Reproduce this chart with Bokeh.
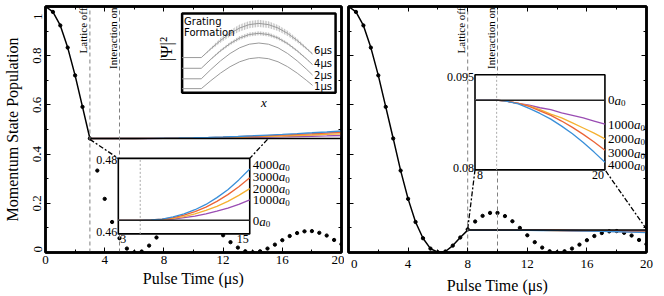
import math
from bokeh.plotting import figure
from bokeh.models import Range1d, LinearAxis, FixedTicker, CustomJSTickFormatter, AllLabels
from bokeh.layouts import row
from bokeh.embed import file_html
from bokeh.resources import INLINE
from bokeh.core.properties import value

SERIF = "Liberation Serif"
SANS = "DejaVu Sans"

# ---------------- data ----------------
# full lattice pulse (dots), momentum-state population vs pulse time (us)
pulse_t = [0, 0.5, 1, 1.5, 2, 2.5, 3, 3.5, 4, 4.5, 5, 5.5, 6, 6.5, 7, 7.5, 8, 8.5, 9, 9.5,
           10, 10.5, 11, 11.5, 12, 12.5, 13, 13.5, 14, 14.5, 15, 15.5, 16, 16.5, 17, 17.5,
           18, 18.5, 19, 19.5, 20]
pulse_p = [1.0, 0.978, 0.923, 0.833, 0.72, 0.592, 0.4636, 0.333, 0.218, 0.124, 0.058, 0.016,
           0.001, 0.004, 0.028, 0.061, 0.094, 0.126, 0.149, 0.161, 0.161, 0.148, 0.127, 0.100,
           0.070, 0.042, 0.020, 0.005, 0.001, 0.005, 0.016, 0.032, 0.050, 0.067, 0.079, 0.086,
           0.087, 0.080, 0.069, 0.051, 0.034]

series = ["1000", "2000", "3000", "4000", "0"]
series_colors = {"0": "#222222", "1000": "#9A4DB3", "2000": "#F5B131",
                 "3000": "#EB6436", "4000": "#3A8FD9"}

# left panel: lattice off at 3 us, interaction on at 5 us
left_off, left_on = 3, 5
left_t = [3, 4, 5, 6, 7, 8, 9, 10, 11, 12, 13, 14, 15, 16, 17, 18, 19, 20]
left_p = {
    "0":    [0.4636, 0.4636, 0.4636, 0.4636, 0.4636, 0.4636, 0.4636, 0.4636, 0.4636,
             0.4636, 0.4636, 0.4636, 0.4636, 0.4636, 0.4636, 0.4636, 0.4636, 0.4636],
    "1000": [0.4636, 0.4636, 0.4636, 0.4636, 0.4637, 0.4639, 0.4643, 0.4647, 0.4653,
             0.4660, 0.4668, 0.4678, 0.4690, 0.4701, 0.4714, 0.4727, 0.4741, 0.4756],
    "2000": [0.4636, 0.4636, 0.4636, 0.4636, 0.4638, 0.4641, 0.4646, 0.4653, 0.4662,
             0.4673, 0.4686, 0.4702, 0.4720, 0.4738, 0.4758, 0.4778, 0.4800, 0.4823],
    "3000": [0.4636, 0.4636, 0.4636, 0.4637, 0.4639, 0.4643, 0.4650, 0.4659, 0.4671,
             0.4686, 0.4704, 0.4725, 0.4749, 0.4773, 0.4800, 0.4827, 0.4856, 0.4888],
    "4000": [0.4636, 0.4636, 0.4636, 0.4637, 0.4639, 0.4645, 0.4653, 0.4664, 0.4678,
             0.4696, 0.4717, 0.4743, 0.4772, 0.4801, 0.4833, 0.4866, 0.4901, 0.4939],
}
# right panel: lattice off at 8 us, interaction on at 10 us
right_off, right_on = 8, 10
right_t = [8, 9, 10, 11, 12, 13, 14, 15, 16, 17, 18, 19, 20]
right_p = {
    "0":    [0.0910, 0.0910, 0.0910, 0.0910, 0.0910, 0.0910, 0.0910, 0.0910, 0.0910,
             0.0910, 0.0910, 0.0910, 0.0910],
    "1000": [0.0910, 0.0910, 0.0910, 0.0908, 0.0905, 0.0902, 0.0898, 0.0895, 0.0890,
             0.0886, 0.0882, 0.0877, 0.0872],
    "2000": [0.0910, 0.0910, 0.0910, 0.0908, 0.0905, 0.0901, 0.0895, 0.0888, 0.0882,
             0.0874, 0.0866, 0.0858, 0.0849],
    "3000": [0.0910, 0.0910, 0.0910, 0.0908, 0.0905, 0.0900, 0.0893, 0.0886, 0.0877,
             0.0867, 0.0856, 0.0844, 0.0831],
    "4000": [0.0910, 0.0910, 0.0910, 0.0908, 0.0904, 0.0897, 0.0889, 0.0880, 0.0869,
             0.0857, 0.0843, 0.0828, 0.0812],
}

x_major = [0, 4, 8, 12, 16, 20]
x_minor = [2, 6, 10, 14, 18]
y_major = [0, 0.2, 0.4, 0.6, 0.8, 1.0]
y_minor = [0.1, 0.3, 0.5, 0.7, 0.9]

# insets: data ranges and label rows
left_inset_x = (3, 15)
left_inset_y = (0.46, 0.48)
left_inset_ticks = ["0.48", "0.46", "3", "15"]
left_label_y = {"4000": 0.4782, "3000": 0.4751, "2000": 0.4719, "1000": 0.4691, "0": 0.4634}
right_inset_x = (8, 20)
right_inset_y = (0.08, 0.095)
right_inset_ticks = ["0.095", "0.08", "8", "20"]
right_label_y = {"0": 0.0910, "1000": 0.0871, "2000": 0.0848, "3000": 0.0826, "4000": 0.0807}

# grating formation sketch: |psi|^2 vs x (arbitrary units)
grating_x = [-1.0, -0.75, -0.625, -0.5, -0.375, -0.25, -0.125, 0.0, 0.125, 0.25,
             0.375, 0.5, 0.625, 0.7]
grating_curves = {
    "1\u03bcs": [0.053, 0.053, 0.154, 0.248, 0.329, 0.391, 0.430, 0.443, 0.430, 0.391,
                 0.329, 0.248, 0.154, 0.094],
    "2\u03bcs": [0.177, 0.177, 0.294, 0.402, 0.495, 0.567, 0.612, 0.627, 0.612, 0.567,
                 0.495, 0.402, 0.294, 0.224],
    "4\u03bcs": [0.309, 0.309, 0.423, 0.529, 0.620, 0.690, 0.734, 0.749, 0.734, 0.690,
                 0.620, 0.529, 0.423, 0.355],
    "6\u03bcs": [0.444, 0.444, 0.555, 0.659, 0.748, 0.816, 0.859, 0.874, 0.859, 0.816,
                 0.748, 0.659, 0.555, 0.489],
}
grating_fringe = {
    "4\u03bcs": [0, 0, 0.008, 0.015, 0.020, 0.024, 0.025, 0.025, 0.024, 0.022, 0.018,
                 0.014, 0.008, 0.004],
    "6\u03bcs": [0, 0, 0.015, 0.030, 0.040, 0.045, 0.045, 0.045, 0.042, 0.038, 0.032,
                 0.025, 0.015, 0.008],
}
grating_label_y = {"6\u03bcs": 0.53, "4\u03bcs": 0.37, "2\u03bcs": 0.22, "1\u03bcs": 0.086}

# inset placement inside the main frames (main data coordinates)
left_box = (4.92, 13.80, 0.0757, 0.3825)
right_box = (8.49, 17.21, 0.336, 0.7223)
grating_box = (9.23, 19.6, 0.649, 0.972)

NB = "\u00a0"


def sub_range(box0, box1, d0, d1, m0, m1):
    k = (d1 - d0) / (box1 - box0)
    return Range1d(start=d0 + (m0 - box0) * k, end=d0 + (m1 - box0) * k)


def style_axis(ax, code=None):
    ax.axis_line_color = "black"
    ax.axis_line_width = 2.5
    ax.major_tick_in = 5
    ax.major_tick_out = 0
    ax.minor_tick_in = 3
    ax.minor_tick_out = 0
    ax.major_tick_line_color = "black"
    ax.minor_tick_line_color = "black"
    ax.major_tick_line_width = 1
    ax.minor_tick_line_width = 1
    ax.major_label_policy = AllLabels()
    if code is None:
        ax.formatter = CustomJSTickFormatter(code="return ''")
        ax.major_label_text_font_size = "0px"
        ax.major_label_standoff = 0
    else:
        ax.formatter = CustomJSTickFormatter(code=code)
        ax.major_label_text_font = SERIF
        ax.major_label_text_font_size = "13px"
        ax.major_label_text_color = "black"
        ax.major_label_standoff = 3
    ax.axis_label_text_color = "black"


def make_panel(width, mb_left, mb_right, show_y, xcode):
    p = figure(width=width, height=296, x_range=Range1d(0, 20), y_range=Range1d(0, 1),
               output_backend="svg", toolbar_location=None,
               x_axis_location=None, y_axis_location=None,
               min_border_left=mb_left, min_border_right=mb_right,
               min_border_top=6, min_border_bottom=39)
    p.outline_line_color = "black"
    p.outline_line_width = 2.5
    p.outline_line_alpha = 1
    p.grid.visible = False
    p.background_fill_color = "white"
    p.border_fill_color = "white"

    xb = LinearAxis(ticker=FixedTicker(ticks=x_major, minor_ticks=x_minor))
    style_axis(xb, xcode)
    xb.axis_label = "Pulse Time (\u03bcs)"
    xb.axis_label_text_font = SERIF
    xb.axis_label_text_font_size = "16px"
    xb.axis_label_text_font_style = "normal"
    xb.axis_label_standoff = 3
    p.add_layout(xb, "below")
    xa = LinearAxis(ticker=FixedTicker(ticks=x_major, minor_ticks=x_minor))
    style_axis(xa)
    p.add_layout(xa, "above")

    yl = LinearAxis(ticker=FixedTicker(ticks=y_major, minor_ticks=y_minor))
    if show_y:
        style_axis(yl, "if (tick == 0) return '%s%s0'; if (tick == 1) return '1%s%s%s%s';"
                       " return String(tick);" % (NB, NB, NB, NB, NB, NB))
        yl.major_label_orientation = "vertical"
        yl.major_label_standoff = 1
        yl.axis_label = "Momentum State Population"
        yl.axis_label_text_font = SERIF
        yl.axis_label_text_font_size = "16px"
        yl.axis_label_text_font_style = "normal"
        yl.axis_label_standoff = 6
    else:
        style_axis(yl)
    p.add_layout(yl, "left")
    yr = LinearAxis(ticker=FixedTicker(ticks=y_major, minor_ticks=y_minor))
    style_axis(yr)
    p.add_layout(yr, "right")
    return p


def draw_main(p, off, on, t, pdict, box, ix, iy, itick, label_y, tag):
    # full-pulse dots
    p.scatter(pulse_t, pulse_p, size=3.3, color="black")
    # plateau curves after lattice off
    for s in series[:-1]:
        p.line(t, pdict[s], line_color=series_colors[s], line_width=1.4)
    # lattice-on solid curve joined to the 0 a0 plateau
    on_t = [tt for tt in pulse_t if tt < off] + t
    on_p = [pp for tt, pp in zip(pulse_t, pulse_p) if tt < off] + pdict["0"]
    p.line(on_t, on_p, line_color="black", line_width=1.5)
    # markers for lattice off / interaction on
    p.segment(x0=[off, on], y0=[0, 0], x1=[off, on], y1=[1, 1],
              line_color="#808080", line_width=1, line_dash="4 3")
    p.text(x=[off, on], y=[1, 1], text=["Lattice off", "Interaction on"], angle=math.pi / 2,
           text_align="right", text_baseline="bottom", x_offset=-1, y_offset=1,
           text_font=value(SERIF), text_font_size="11px", text_color="black")

    bx0, bx1, by0, by1 = box
    # inset coordinate system
    xn, yn = tag + "x", tag + "y"
    p.extra_x_ranges[xn] = sub_range(bx0, bx1, ix[0], ix[1], 0, 20)
    p.extra_y_ranges[yn] = sub_range(by0, by1, iy[0], iy[1], 0, 1)

    # zoom connectors (from zoomed region corners to inset corners)
    if tag == "l":
        p.segment(x0=[ix[0], ix[1]], y0=[iy[0], iy[0]], x1=[bx0, bx1], y1=[by1, by1],
                  line_color="black", line_width=1.3, line_dash="5 2 2 2")
    else:
        p.segment(x0=[ix[0], ix[1]], y0=[iy[1], iy[1]], x1=[bx0, bx1], y1=[by0, by0],
                  line_color="black", line_width=1.3, line_dash="5 2 2 2")

    p.quad(left=[bx0], right=[bx1], bottom=[by0], top=[by1], fill_color="white",
           line_color="black", line_width=1.6)
    kw = dict(x_range_name=xn, y_range_name=yn)
    p.segment(x0=[on], y0=[iy[0]], x1=[on], y1=[iy[1]], line_color="#aaaaaa",
              line_width=1, line_dash="2 2", **kw)
    it = [tt for tt in t if tt <= ix[1]]
    n = len(it)
    for s in series:
        p.line(it, pdict[s][:n], line_color=series_colors[s],
               line_width=1.5 if s == "0" else 1.3, **kw)
    # inset tick labels
    tf = dict(text_font=value(SERIF), text_font_size="12px", text_color="black")
    p.text(x=[ix[0]], y=[iy[1]], text=[itick[0]], text_align="right", text_baseline="top",
           x_offset=-1, y_offset=-2, **tf, **kw)
    p.text(x=[ix[0]], y=[iy[0]], text=[itick[1]], text_align="right", text_baseline="bottom",
           x_offset=-1, y_offset=2, **tf, **kw)
    p.text(x=[ix[0]], y=[iy[0]], text=[itick[2]], text_align="left", text_baseline="top",
           x_offset=2, y_offset=1, **tf, **kw)
    p.text(x=[ix[1]], y=[iy[0]], text=[itick[3]], text_align="right", text_baseline="top",
           x_offset=-1, y_offset=1, **tf, **kw)
    # series labels:  N a_0
    nums = series
    lx = [ix[1]] * len(nums)
    ly = [label_y[s] for s in nums]
    p.text(x=lx, y=ly, text=nums, text_align="left", text_baseline="middle", x_offset=3,
           text_font=value(SERIF), text_font_size="13px", text_color="black", **kw)
    offs = [3 + 6.5 * len(s) for s in nums]
    p.text(x=lx, y=ly, text=["a"] * len(nums), text_align="left", text_baseline="middle",
           x_offset=offs, text_font=value(SERIF), text_font_size="13px",
           text_font_style="italic", text_color="black", **kw)
    p.text(x=lx, y=ly, text=["0"] * len(nums), text_align="left", text_baseline="middle",
           x_offset=[o + 6.5 for o in offs], y_offset=3, text_font=value(SERIF),
           text_font_size="9px", text_color="black", **kw)


def draw_grating(p):
    bx0, bx1, by0, by1 = grating_box
    p.extra_x_ranges["gx"] = sub_range(bx0, bx1, -1, 1, 0, 20)
    p.extra_y_ranges["gy"] = sub_range(by0, by1, 0, 1, 0, 1)
    kw = dict(x_range_name="gx", y_range_name="gy")
    p.quad(left=[bx0], right=[bx1], bottom=[by0], top=[by1], fill_color="white",
           line_color="black", line_width=2.5)
    for name, ys in grating_curves.items():
        if name in grating_fringe:
            hw = grating_fringe[name]
            p.varea(x=grating_x, y1=[a - b for a, b in zip(ys, hw)],
                    y2=[a + b for a, b in zip(ys, hw)], fill_alpha=0,
                    hatch_pattern="vertical_line", hatch_scale=1.6, hatch_weight=1,
                    hatch_color="#555555", **kw)
        p.line(grating_x, ys, line_color="#9a9a9a", line_width=1, **kw)
    names = list(grating_label_y.keys())
    p.text(x=[0.72] * len(names), y=[grating_label_y[n] for n in names], text=names,
           text_align="left", text_baseline="middle", text_font=value(SANS),
           text_font_size="10px", text_color="black", **kw)
    p.text(x=[-1, -1], y=[1, 1], text=["Grating", "Formation"], text_align="left",
           text_baseline="top", x_offset=2, y_offset=[3, 14], text_font=value(SANS),
           text_font_size="10px", text_color="black", **kw)
    p.text(x=[-1], y=[0.55], text=["|\u03a8|\u00b2"], angle=math.pi / 2, text_align="center",
           text_baseline="bottom", x_offset=-6, text_font=value(SERIF),
           text_font_size="17px", text_color="black", **kw)
    p.text(x=[0.065], y=[0], text=["x"], text_align="center", text_baseline="top",
           y_offset=2, text_font=value(SERIF), text_font_size="13px",
           text_font_style="italic", text_color="black", **kw)


left = make_panel(344, 44, 3, True, "return String(tick);")
draw_main(left, left_off, left_on, left_t, left_p, left_box, left_inset_x, left_inset_y,
          left_inset_ticks, left_label_y, "l")
draw_grating(left)
right = make_panel(320, 4, 18, False,
                   "return tick == 0 ? '%s%s0' : String(tick);" % (NB, NB))
draw_main(right, right_off, right_on, right_t, right_p, right_box, right_inset_x,
          right_inset_y, right_inset_ticks, right_label_y, "r")

layout = row(left, right)
open("out.html", "w").write(file_html(layout, INLINE))
